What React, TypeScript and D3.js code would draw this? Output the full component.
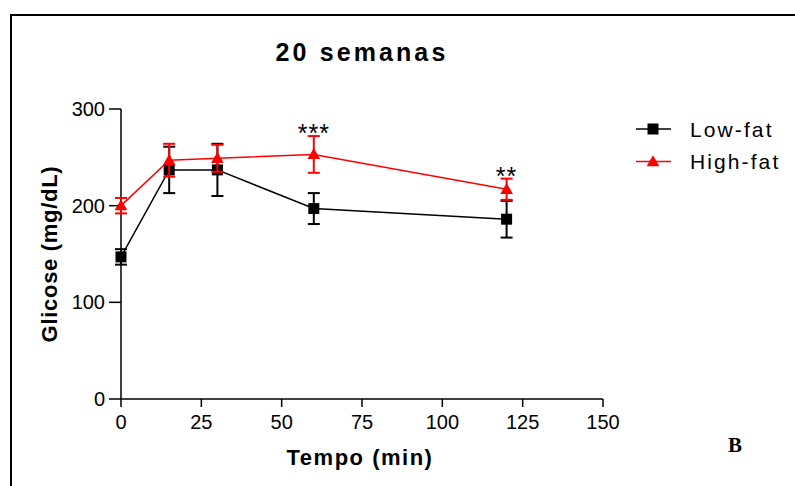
import * as d3 from 'd3';

// tempo (min)
const times = [0, 15, 30, 60, 120];
// média e erro padrão
const lowFatMean = [147, 237, 237, 197, 186];
const lowFatErr = [8, 24, 27, 16, 19];
const highFatMean = [200, 247, 249, 253, 217];
const highFatErr = [8, 17, 14, 19, 11];
// asteriscos de significância
const stars = [
  { t: 60, label: '***' },
  { t: 120, label: '**' },
];
const xTicks = [0, 25, 50, 75, 100, 125, 150];
const yTicks = [0, 100, 200, 300];

const W = 795;
const H = 486;
const font = '"Liberation Sans", Arial, sans-serif';

export default function App() {
  const x = d3.scaleLinear().domain([0, 150]).range([121, 603]);
  const y = d3.scaleLinear().domain([0, 300]).range([399, 109]);

  const line = d3.line<number>()
    .x((_, i) => x(times[i]))
    .y(d => y(d));

  const series = [
    { name: 'Low-fat', mean: lowFatMean, err: lowFatErr, color: '#000', marker: 'square' },
    { name: 'High-fat', mean: highFatMean, err: highFatErr, color: '#ff0000', marker: 'triangle' },
  ];

  const marker = (type: string, cx: number, cy: number, color: string, key?: string) =>
    type === 'square'
      ? <rect key={key} x={cx - 5.5} y={cy - 5.5} width={11} height={11} fill={color} />
      : <path key={key} d={d3.symbol(d3.symbolTriangle, 70)()!} transform={`translate(${cx},${cy + 1})`} fill={color} />;

  return (
    <svg width={W} height={H} style={{ position: 'absolute', left: 0, top: 0 }} fontFamily={font}>
      <rect x={0} y={0} width={W} height={H} fill="#fff" />
      {/* moldura */}
      <path d={`M11,${H} V15 H${W}`} fill="none" stroke="#000" strokeWidth={2} />

      <text x={362} y={61} textAnchor="middle" fontSize={25} fontWeight="bold" letterSpacing={3.1}>20 semanas</text>

      {/* eixo y */}
      <line x1={x(0)} x2={x(0)} y1={y(0)} y2={y(300)} stroke="#000" strokeWidth={1.5} />
      {yTicks.map(t => (
        <g key={t}>
          <line x1={x(0) - 12} x2={x(0)} y1={y(t)} y2={y(t)} stroke="#000" strokeWidth={1.5} />
          <text x={x(0) - 16} y={y(t) + 7} textAnchor="end" fontSize={20}>{t}</text>
        </g>
      ))}
      <text transform={`translate(56.5,${y(150)}) rotate(-90)`} textAnchor="middle" fontSize={22} fontWeight="bold" letterSpacing={0.7}>Glicose (mg/dL)</text>

      {/* eixo x */}
      <line x1={x(0)} x2={x(150)} y1={y(0)} y2={y(0)} stroke="#000" strokeWidth={1.5} />
      {xTicks.map(t => (
        <g key={t}>
          <line x1={x(t)} x2={x(t)} y1={y(0)} y2={y(0) + 8} stroke="#000" strokeWidth={1.5} />
          <text x={x(t)} y={429} textAnchor="middle" fontSize={20}>{t}</text>
        </g>
      ))}
      <text x={360} y={465} textAnchor="middle" fontSize={22} fontWeight="bold" letterSpacing={1.5}>Tempo (min)</text>

      {series.map(s => (
        <g key={s.name}>
          <path d={line(s.mean)!} fill="none" stroke={s.color} strokeWidth={1.5} />
          {s.mean.map((m, i) => {
            const cx = x(times[i]);
            const top = y(m + s.err[i]);
            const bot = y(m - s.err[i]);
            return (
              <g key={i} stroke={s.color} strokeWidth={2}>
                <line x1={cx} x2={cx} y1={top} y2={bot} />
                <line x1={cx - 6} x2={cx + 6} y1={top} y2={top} />
                <line x1={cx - 6} x2={cx + 6} y1={bot} y2={bot} />
              </g>
            );
          })}
          {s.mean.map((m, i) => marker(s.marker, x(times[i]), y(m), s.color, `m${i}`))}
        </g>
      ))}

      {stars.map(s => {
        const i = times.indexOf(s.t);
        return (
          <text key={s.t} x={x(s.t)} y={y(highFatMean[i] + highFatErr[i]) + 6} textAnchor="middle" fontSize={25} letterSpacing={1}>{s.label}</text>
        );
      })}

      {/* legenda */}
      {series.map((s, i) => {
        const ly = 129 + i * 32.5;
        return (
          <g key={s.name}>
            <line x1={636} x2={671} y1={ly} y2={ly} stroke={s.color} strokeWidth={1.5} />
            {marker(s.marker, 653, ly, s.color)}
            <text x={690} y={ly + 7.5} fontSize={21} letterSpacing={2.1}>{s.name}</text>
          </g>
        );
      })}

      <text x={735} y={452} textAnchor="middle" fontSize={21} fontWeight="bold" fontFamily='"Liberation Serif", serif'>B</text>
    </svg>
  );
}
